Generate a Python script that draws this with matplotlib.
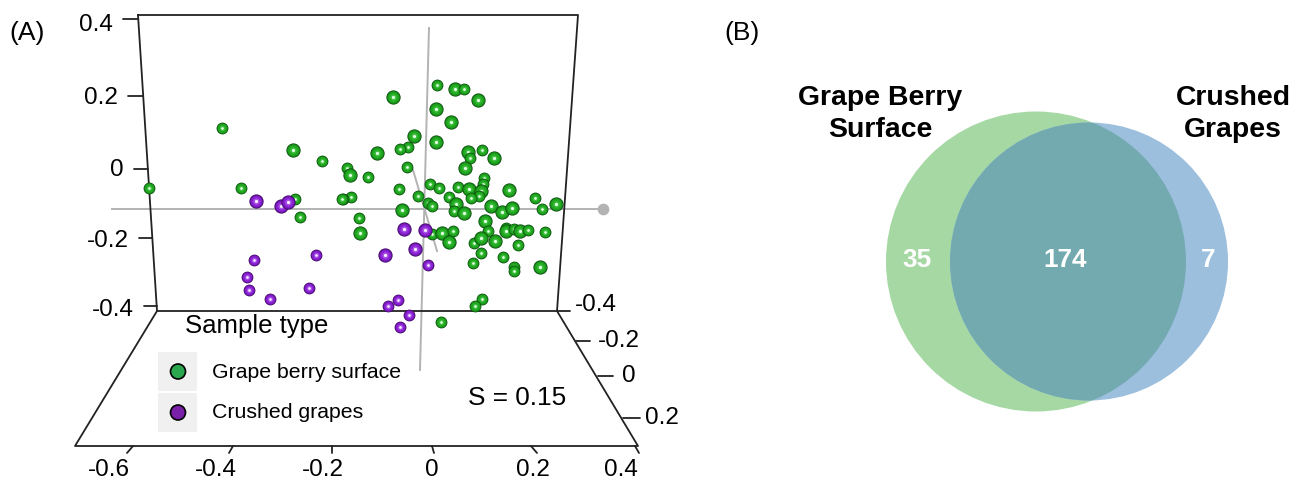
import matplotlib
matplotlib.use('Agg')
import matplotlib.pyplot as plt
from matplotlib.patches import Circle, Rectangle

plt.rcParams['font.family'] = ['Liberation Sans', 'DejaVu Sans']

# projected ordination scores
green_x = [.009, .043, .060, .087, -.074, .008, .036, -.034, .008, -.045, -.060, -.104, .068, .094, .072, .117,
           .062, -.047, -.160, -.155, -.121, .098, .096, -.004, .013, .049, .070, .092, -.062, .145, .089, .074,
           .032, -.026, -.153, -.168, .194, -.008, 0, .045, .042, .060, .111, .132, .151, .208, .234, -.057,
           -.138, -.136, .100, .106, .140, .140, .155, .166, .181, .213, 0, .019, .040, .032, .079, .092, .119,
           .162, .092, .134, .077, .155, .155, .204, .094, .081, .017, -.534, -.396, -.262, -.208, -.360, -.258,
           -.170, -.249]
green_y = [.235, .223, .223, .193, .201, .168, .131, .092, .075, .061, .056, .045, .047, .053, .031, .031,
           .003, .006, .003, -.017, -.022, -.025, -.042, -.042, -.053, -.050, -.056, -.061, -.056, -.059, -.075, -.081,
           -.078, -.075, -.078, -.084, -.081, -.095, -.103, -.098, -.117, -.123, -.103, -.120, -.109, -.112, -.098, -.115,
           -.137, -.179, -.145, -.173, -.165, -.173, -.168, -.173, -.170, -.176, -.182, -.179, -.173, -.204, -.207, -.193, -.201,
           -.212, -.235, -.246, -.263, -.274, -.285, -.274, -.363, -.383, -.427, -.053, .115, .053, .022, -.053, -.084,
           -.084, -.134]
# 1 = nearer the viewer, drawn larger
green_near = [0, 1, 0, 1, 1, 1, 1, 1, 1, 0, 0, 1, 1, 0, 0, 1,
              1, 0, 0, 1, 0, 0, 0, 0, 0, 0, 1, 1, 0, 1, 0, 0,
              0, 0, 0, 0, 0, 0, 0, 1, 0, 1, 1, 1, 1, 0, 1, 1,
              0, 1, 1, 0, 0, 1, 0, 1, 0, 0, 0, 1, 0, 1, 0, 1, 1,
              0, 0, 0, 0, 0, 0, 1, 0, 0, 0, 0, 0, 1, 0, 0, 0,
              0, 0]

purple_x = [-.332, -.285, -.272, -.053, -.013, -.032, -.089, -.008, -.064, -.083, -.043, -.060, -.336, -.219, -.349,
            -.345, -.232, -.306]
purple_y = [-.089, -.103, -.092, -.168, -.170, -.223, -.240, -.268, -.366, -.383, -.408, -.441, -.254, -.240, -.302,
            -.338, -.332, -.363]
purple_near = [1, 1, 1, 1, 1, 1, 1, 0, 0, 0, 0, 0, 0, 0, 0, 0, 0, 0]

legend_labels = ['Grape berry surface', 'Crushed grapes']
legend_colors = ['#2aa64f', '#7a1fa8']
left_ticks = ['0.4', '0.2', '0', '-0.2', '-0.4']
right_ticks = ['-0.4', '-0.2', '0', '0.2']
bottom_ticks = ['-0.6', '-0.4', '-0.2', '0', '0.2', '0.4']
venn_counts = [35, 174, 7]

W, H = 1293, 479
fig = plt.figure(figsize=(W / 100, H / 100), dpi=100)

# frame, labels and Venn are laid out in figure pixels
ax = fig.add_axes([0, 0, 1, 1])
ax.set_xlim(0, W)
ax.set_ylim(H, 0)
ax.axis('off')

# points use the score scale of the plot (530 px and 358 px per unit)
pts = fig.add_axes([0, 0, 1, 1])
pts.set_xlim((0 - 432) / 530, (W - 432) / 530)
pts.set_ylim((169 - H) / 358, 169 / 358)
pts.axis('off')
pts.patch.set_alpha(0)

line = dict(color='#222222', lw=1.3, solid_capstyle='round')
ax.plot([138, 578, 557, 157, 138], [15, 15, 311, 311, 15], **line)
ax.plot([157, 75, 638, 557], [311, 446, 446, 311], **line)

tick_fs = 17.5
for lab, x0, x1, y, ty in zip(left_ticks, [123, 128, 134, 139, 144], [138, 143, 148, 152, 157],
                              [19, 96, 169, 238, 306], [25, 98, 170, 241, 310]):
    ax.plot([x0, x1], [y, y], **line)
    ax.text(x0 - 10, ty, lab, ha='right', va='center', fontsize=tick_fs, color='black')
for lab, x0, x1, y, tx, ty in zip(right_ticks, [557, 576, 598, 623], [570, 590, 613, 640], [311, 341, 376, 418],
                                  [575, 598, 622, 645], [305, 341, 376, 418]):
    ax.plot([x0, x1], [y, y], **line)
    ax.text(tx, ty, lab, ha='left', va='center', fontsize=tick_fs, color='black')
for lab, x0, x1, tx in zip(bottom_ticks, [133, 233, 332, 432, 531, 635], [127, 229, 332, 434, 537, 639],
                           [109, 216, 323, 432, 533, 621]):
    ax.plot([x0, x1], [446, 453], **line)
    ax.text(tx, 470, lab, ha='center', va='center', fontsize=tick_fs, color='black')

# grey ordination axes
grey = dict(color='#b3b3b3', lw=1.4, zorder=1)
ax.plot([112, 603], [209, 209], **grey)
ax.plot([429, 420], [28, 370], **grey)
ax.plot([413, 437], [170, 251], **grey)
ax.scatter([603], [209], s=55, color='#b3b3b3', zorder=1)


def spheres(xs, ys, near, shades, base):
    # each ball gets its own stack of shades so overlaps look solid
    for i, (x, y, n) in enumerate(zip(xs, ys, near)):
        s = 105 if n else 72
        for j, (frac, col) in enumerate(shades):
            pts.scatter([x], [y], s=s * frac, color=col, linewidths=0, zorder=base + i * 0.01 + j * 0.001)


green_shades = [(1, '#0a4a0e'), (0.8, '#179017'), (0.55, '#22a822'), (0.2, '#3cc03c'), (0.05, '#e8ffe8')]
purple_shades = [(1, '#3c0a62'), (0.8, '#7016b0'), (0.55, '#8a22d2'), (0.2, '#a850e8'), (0.05, '#fbefff')]
spheres(green_x, green_y, green_near, green_shades, 3)
spheres(purple_x, purple_y, purple_near, purple_shades, 5)

# legend
ax.text(185, 326, 'Sample type', ha='left', va='center', fontsize=18.5, color='black')
for lab, col, top in zip(legend_labels, legend_colors, [352, 393]):
    ax.add_patch(Rectangle((158, top), 39, 39, fc='#f0f0f0', ec='none'))
    ax.add_patch(Circle((178, top + 19.5), 7.5, fc=col, ec='black', lw=1.2, zorder=3))
    ax.text(212, top + 20, lab, ha='left', va='center', fontsize=15.3, color='black')

ax.text(468, 398, 'S = 0.15', ha='left', va='center', fontsize=18.9, color='black')
ax.text(9, 33, '(A)', ha='left', va='center', fontsize=19, color='black')
ax.text(724, 33, '(B)', ha='left', va='center', fontsize=19, color='black')

# panel B
green_c = Circle((1036, 261.5), 150, fc='#a6d8a4', ec='none')
blue_c = Circle((1089, 261.5), 139, fc='#9dbfde', ec='none')
ax.add_patch(green_c)
ax.add_patch(blue_c)
overlap = Circle((1089, 261.5), 139, fc='#72aab0', ec='none', zorder=2)
ax.add_patch(overlap)
overlap.set_clip_path(Circle((1036, 261.5), 150, transform=ax.transData))

for x, n in zip([917, 1065, 1208], venn_counts):
    ax.text(x, 260, str(n), ha='center', va='center', fontsize=18.8, fontweight='bold', color='white', zorder=4)
ax.text(880, 114, 'Grape Berry\nSurface', ha='center', va='center', fontsize=20.4, fontweight='bold',
        color='black', linespacing=1.3, zorder=4)
ax.text(1233, 114, 'Crushed\nGrapes', ha='center', va='center', fontsize=20.4, fontweight='bold',
        color='black', linespacing=1.3, zorder=4)

fig.savefig('out.png', dpi=100)
